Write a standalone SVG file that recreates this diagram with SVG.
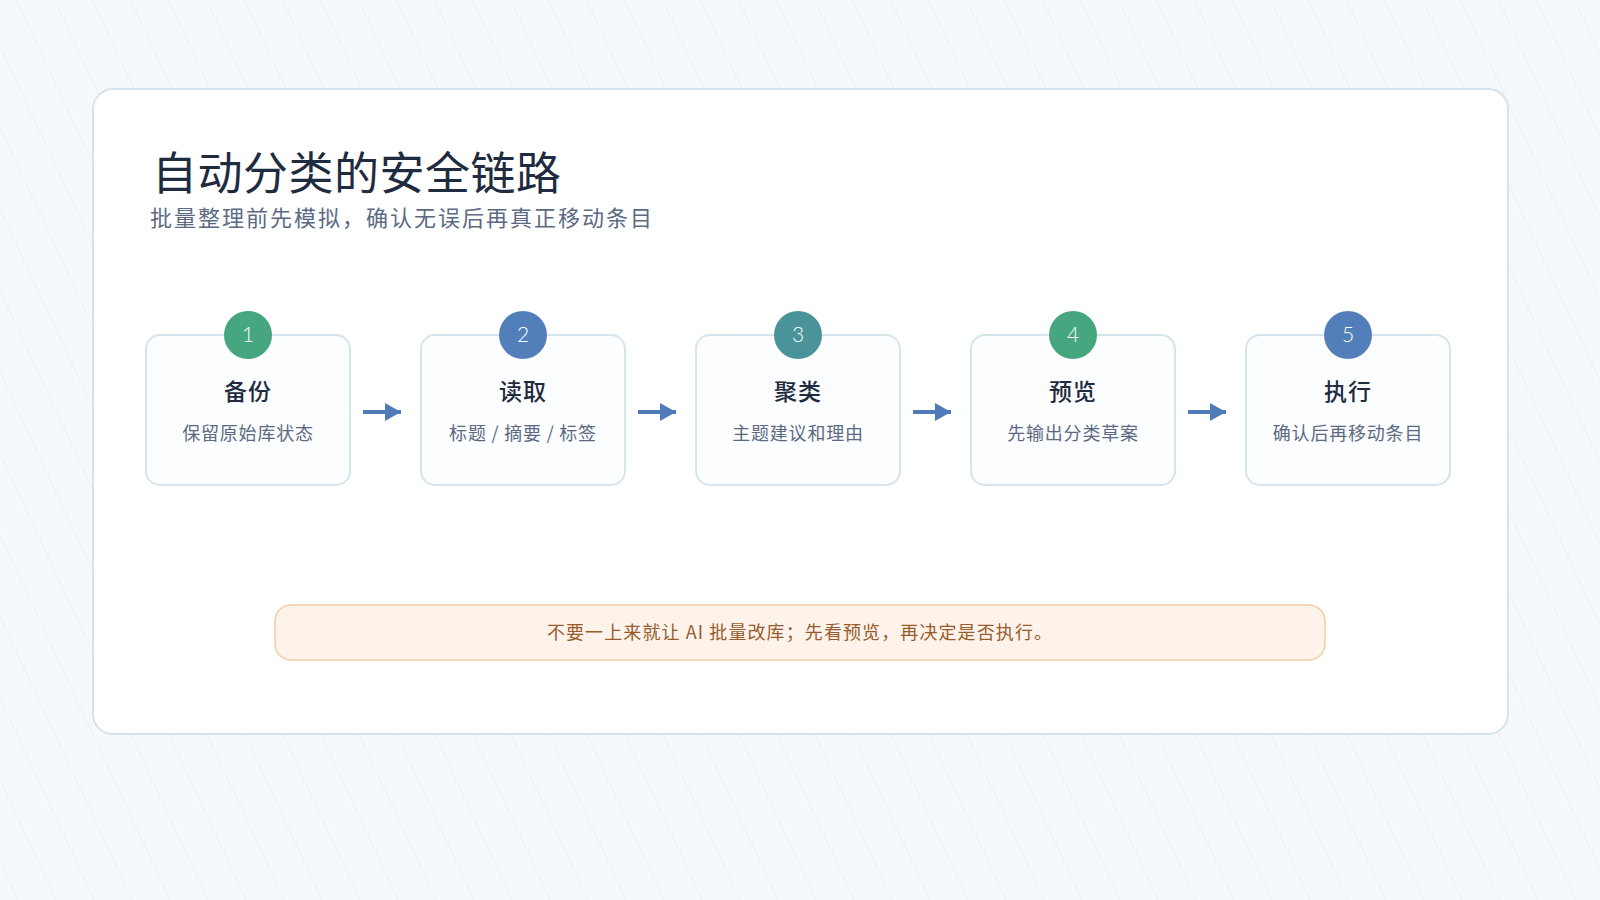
<svg xmlns="http://www.w3.org/2000/svg" width="1600" height="900" viewBox="0 0 1600 900">
  <defs>
    <pattern id="bgLines" patternUnits="userSpaceOnUse" width="38" height="38" patternTransform="translate(16 0) skewX(25)">
      <line x1="0" y1="-2" x2="0" y2="40" stroke="#e3eff2" stroke-width="1.6"/>
    </pattern>
    <marker id="arrowHead" markerWidth="16" markerHeight="18" refX="16" refY="9" orient="auto" markerUnits="userSpaceOnUse">
      <path d="M0,0 L16,9 L0,18 Z" fill="#4f7bb8"/>
    </marker>
    <style>
      .cjk { font-family: "Noto Sans CJK SC", "Noto Sans", sans-serif; }
      .box { fill: #fbfdfe; stroke: #d5e5ec; stroke-width: 2; }
      .num { font-family: "Lato", "Open Sans", sans-serif; font-size: 21px; font-weight: 300; fill: #ffffff; text-anchor: middle; }
      .ntitle { font-family: "Noto Sans CJK SC", sans-serif; font-size: 23px; font-weight: 500; fill: #1f2b3f; text-anchor: middle; letter-spacing: 1px; }
      .nsub { font-family: "Noto Sans CJK SC", sans-serif; font-size: 18px; fill: #5b6a82; text-anchor: middle; letter-spacing: 0.8px; }
      .conn { stroke: #4f7bb8; stroke-width: 4; fill: none; }
      .green { fill: #46a67f; }
      .blue { fill: #527fba; }
      .teal { fill: #4a9499; }
    </style>
  </defs>

  <rect x="0" y="0" width="1600" height="900" fill="#f5f9fb"/>
  <rect x="0" y="0" width="1600" height="900" fill="url(#bgLines)"/>

  <g id="card">
    <rect x="93" y="89" width="1415" height="645" rx="20" fill="#ffffff" stroke="#d3e4ec" stroke-width="2"/>
  </g>

  <g id="header">
    <text x="152" y="190" class="cjk" font-size="45" fill="#1f2b3f" letter-spacing="0.5">自动分类的安全链路</text>
    <text x="150" y="226" class="cjk" font-size="22" fill="#5b6a82" letter-spacing="2">批量整理前先模拟，确认无误后再真正移动条目</text>
  </g>

  <g id="connectors">
    <line class="conn" x1="363" y1="412" x2="401" y2="412" marker-end="url(#arrowHead)"/>
    <line class="conn" x1="638" y1="412" x2="676" y2="412" marker-end="url(#arrowHead)"/>
    <line class="conn" x1="913" y1="412" x2="951" y2="412" marker-end="url(#arrowHead)"/>
    <line class="conn" x1="1188" y1="412" x2="1226" y2="412" marker-end="url(#arrowHead)"/>
  </g>

  <g id="node1">
    <rect class="box" x="146" y="335" width="204" height="150" rx="14"/>
    <circle class="green" cx="248" cy="335" r="24"/>
    <text class="num" x="248" y="342">1</text>
    <text class="ntitle" x="248" y="400">备份</text>
    <text class="nsub" x="248" y="440">保留原始库状态</text>
  </g>

  <g id="node2">
    <rect class="box" x="421" y="335" width="204" height="150" rx="14"/>
    <circle class="blue" cx="523" cy="335" r="24"/>
    <text class="num" x="523" y="342">2</text>
    <text class="ntitle" x="523" y="400">读取</text>
    <text class="nsub" x="523" y="440">标题 / 摘要 / 标签</text>
  </g>

  <g id="node3">
    <rect class="box" x="696" y="335" width="204" height="150" rx="14"/>
    <circle class="teal" cx="798" cy="335" r="24"/>
    <text class="num" x="798" y="342">3</text>
    <text class="ntitle" x="798" y="400">聚类</text>
    <text class="nsub" x="798" y="440">主题建议和理由</text>
  </g>

  <g id="node4">
    <rect class="box" x="971" y="335" width="204" height="150" rx="14"/>
    <circle class="green" cx="1073" cy="335" r="24"/>
    <text class="num" x="1073" y="342">4</text>
    <text class="ntitle" x="1073" y="400">预览</text>
    <text class="nsub" x="1073" y="440">先输出分类草案</text>
  </g>

  <g id="node5">
    <rect class="box" x="1246" y="335" width="204" height="150" rx="14"/>
    <circle class="blue" cx="1348" cy="335" r="24"/>
    <text class="num" x="1348" y="342">5</text>
    <text class="ntitle" x="1348" y="400">执行</text>
    <text class="nsub" x="1348" y="440">确认后再移动条目</text>
  </g>

  <g id="note">
    <rect x="275" y="605" width="1050" height="55" rx="16" fill="#fdf3ea" stroke="#f0cfa6" stroke-width="1.5"/>
    <text x="800" y="639" class="cjk" font-size="18" fill="#995a2c" text-anchor="middle" letter-spacing="1.1">不要一上来就让 AI 批量改库；先看预览，再决定是否执行。</text>
  </g>
</svg>
